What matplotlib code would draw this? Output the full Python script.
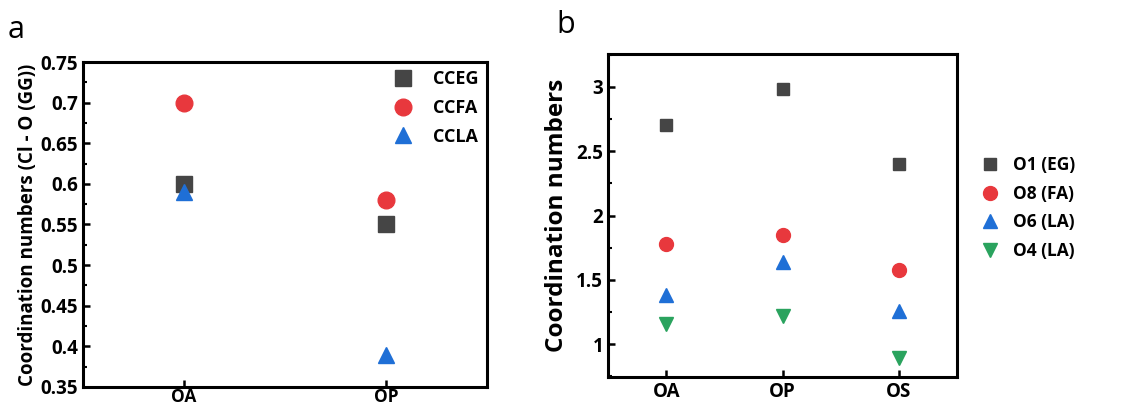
import matplotlib.pyplot as plt
from matplotlib.ticker import MultipleLocator

plt.rcParams['font.family'] = ['Open Sans', 'DejaVu Sans']
plt.rcParams['font.weight'] = 'bold'

# Panel a: Cl - O coordination numbers
a_sites = ["OA", "OP"]
cceg = [0.60, 0.55]
ccfa = [0.70, 0.58]
ccla = [0.59, 0.39]

# Panel b: coordination numbers per oxygen site
b_sites = ["OA", "OP", "OS"]
o1_eg = [2.70, 2.98, 2.40]
o8_fa = [1.78, 1.85, 1.58]
o6_la = [1.38, 1.64, 1.26]
o4_la = [1.16, 1.22, 0.89]

gray = "#454545"
red = "#e8383d"
blue = "#1f6fd6"
green = "#2aa35e"

fig = plt.figure(figsize=(11.44, 4.08), dpi=100)
ax1 = fig.add_axes([83 / 1144, 1 - 387 / 408, 404 / 1144, 325 / 408])
ax2 = fig.add_axes([608 / 1144, 1 - 377 / 408, 349 / 1144, 323 / 408])


def style(ax):
    for s in ax.spines.values():
        s.set_linewidth(2.2)
    ax.tick_params(direction="in", width=1.8, length=5, labelsize=13.5)
    ax.tick_params(which="minor", direction="in", width=1.5, length=3)
    ax.tick_params(axis="x", which="minor", bottom=False)
    for lab in ax.get_xticklabels() + ax.get_yticklabels():
        lab.set_fontweight("bold")


xa = range(1, len(a_sites) + 1)
ax1.plot(xa, cceg, "s", color=gray, ms=11, ls="none", label="CCEG")
ax1.plot(xa, ccfa, "o", color=red, ms=12, ls="none", label="CCFA")
ax1.plot(xa, ccla, "^", color=blue, ms=12, ls="none", label="CCLA")
ax1.set_xlim(0.5, 2.5)
ax1.set_ylim(0.35, 0.75)
ax1.set_xticks(list(xa))
ax1.set_xticklabels(a_sites)
ax1.yaxis.set_minor_locator(MultipleLocator(0.025))
ax1.set_yticks([0.35, 0.4, 0.45, 0.5, 0.55, 0.6, 0.65, 0.7, 0.75])
ax1.set_yticklabels(["0.35", "0.4", "0.45", "0.5", "0.55", "0.6", "0.65", "0.7", "0.75"])
ax1.set_ylabel("Coordination numbers (Cl - O (GG))", fontsize=13.5, fontweight="bold", labelpad=2)
style(ax1)
# bottom labels sit close to the figure edge here
ax1.tick_params(axis="x", pad=1, labelsize=12.5)
ax1.legend(loc="upper right", frameon=False, fontsize=13, handletextpad=1.1,
           labelspacing=0.6, borderaxespad=0.05, handlelength=1.2)

xb = range(1, len(b_sites) + 1)
ax2.plot(xb, o1_eg, "s", color=gray, ms=9, ls="none", label="O1 (EG)")
ax2.plot(xb, o8_fa, "o", color=red, ms=10, ls="none", label="O8 (FA)")
ax2.plot(xb, o6_la, "^", color=blue, ms=10, ls="none", label="O6 (LA)")
ax2.plot(xb, o4_la, "v", color=green, ms=10, ls="none", label="O4 (LA)")
ax2.set_xlim(0.5, 3.5)
ax2.set_ylim(0.745, 3.255)
ax2.set_xticks(list(xb))
ax2.set_xticklabels(b_sites)
ax2.set_yticks([1, 1.5, 2, 2.5, 3])
ax2.set_yticklabels(["1", "1.5", "2", "2.5", "3"])
ax2.yaxis.set_minor_locator(MultipleLocator(0.25))
ax2.set_ylabel("Coordination numbers", fontsize=17.5, fontweight="bold", labelpad=5)
style(ax2)
ax2.legend(loc="center left", bbox_to_anchor=(1.02, 0.523), frameon=False, fontsize=12.5,
           handletextpad=0.7, labelspacing=0.62, handlelength=1.2)

fig.text(8 / 1144, 1 - 30 / 408, "a", fontsize=22, fontweight="normal", va="center")
fig.text(556 / 1144, 1 - 25 / 408, "b", fontsize=22, fontweight="normal", va="center")

fig.savefig("out.png", dpi=100)
